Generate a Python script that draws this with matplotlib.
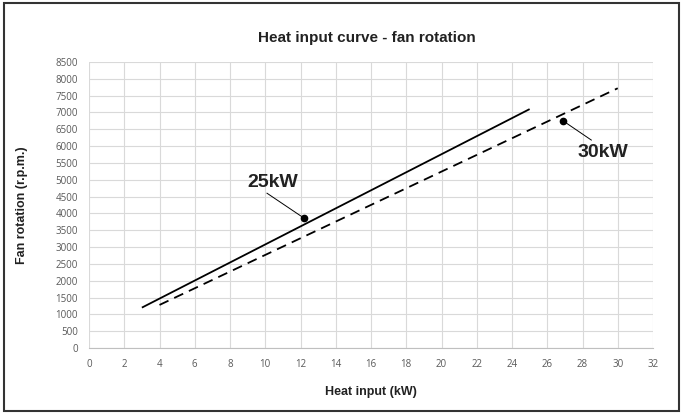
import matplotlib
matplotlib.use("Agg")
import matplotlib.pyplot as plt
from matplotlib.patches import Rectangle

# Data
solid_x = [3, 25]
solid_y = [1200, 7100]
dashed_x = [4, 30]
dashed_y = [1280, 7720]
labels = ["25kW", "30kW"]
marker_x = [12.2, 26.9]
marker_y = [3860, 6750]
leader_x = [10.1, 28.5]
leader_y = [4600, 6180]
label_x = [10.45, 29.15]
label_y = [4930, 5800]
xticks = list(range(0, 33, 2))
yticks = list(range(0, 8501, 500))

title_font = ["Liberation Sans", "DejaVu Sans"]
tick_font = ["Open Sans", "DejaVu Sans"]

fig = plt.figure(figsize=(6.83, 4.16), dpi=100)
ax = fig.add_axes([89/683, 1 - 348/416, (653-89)/683, (348-62)/416])

ax.plot(solid_x, solid_y, color="black", lw=1.3, solid_capstyle="butt")
ax.plot(dashed_x, dashed_y, color="black", lw=1.3, dashes=(5.5, 3.5))

for mx, my, sx, sy, lx, ly, lab in zip(marker_x, marker_y, leader_x, leader_y,
                                       label_x, label_y, labels):
    ax.plot([sx, mx], [sy, my], color="black", lw=0.7)
    ax.plot([mx], [my], "o", color="black", ms=4.5)
    ax.text(lx, ly, lab, ha="center", va="center", fontsize=14, fontweight="bold",
            family=title_font, color="#222222")

ax.set_xlim(0, 32)
ax.set_ylim(0, 8500)
ax.set_xticks(xticks)
ax.set_yticks(yticks)
ax.grid(True, color="#d9d9d9", lw=0.8)
ax.set_axisbelow(True)
for s in ["top", "right", "left"]:
    ax.spines[s].set_visible(False)
ax.spines["bottom"].set_color("#bfbfbf")
ax.tick_params(length=0, labelsize=7, labelcolor="#595959")
ax.tick_params(axis="x", pad=8)
ax.tick_params(axis="y", pad=8)
for lab in ax.get_xticklabels() + ax.get_yticklabels():
    lab.set_family(tick_font)

fig.text(367/683, 1 - 38/416, "Heat input curve - fan rotation", ha="center", va="center",
         fontsize=11, fontweight="bold", family=title_font, color="#222222")
fig.text(371/683, 1 - 392/416, "Heat input (kW)", ha="center", va="center",
         fontsize=9, fontweight="bold", family=title_font, color="#222222")
fig.text(22/683, 1 - 205/416, "Fan rotation (r.p.m.)", ha="center", va="center", rotation=90,
         fontsize=9, fontweight="bold", family=title_font, color="#222222")

fig.patches.append(Rectangle((4/683, 5/416), 675/683, 408/416, transform=fig.transFigure,
                             fill=False, edgecolor="#333333", lw=1.5))

fig.savefig("out.png", dpi=100)
